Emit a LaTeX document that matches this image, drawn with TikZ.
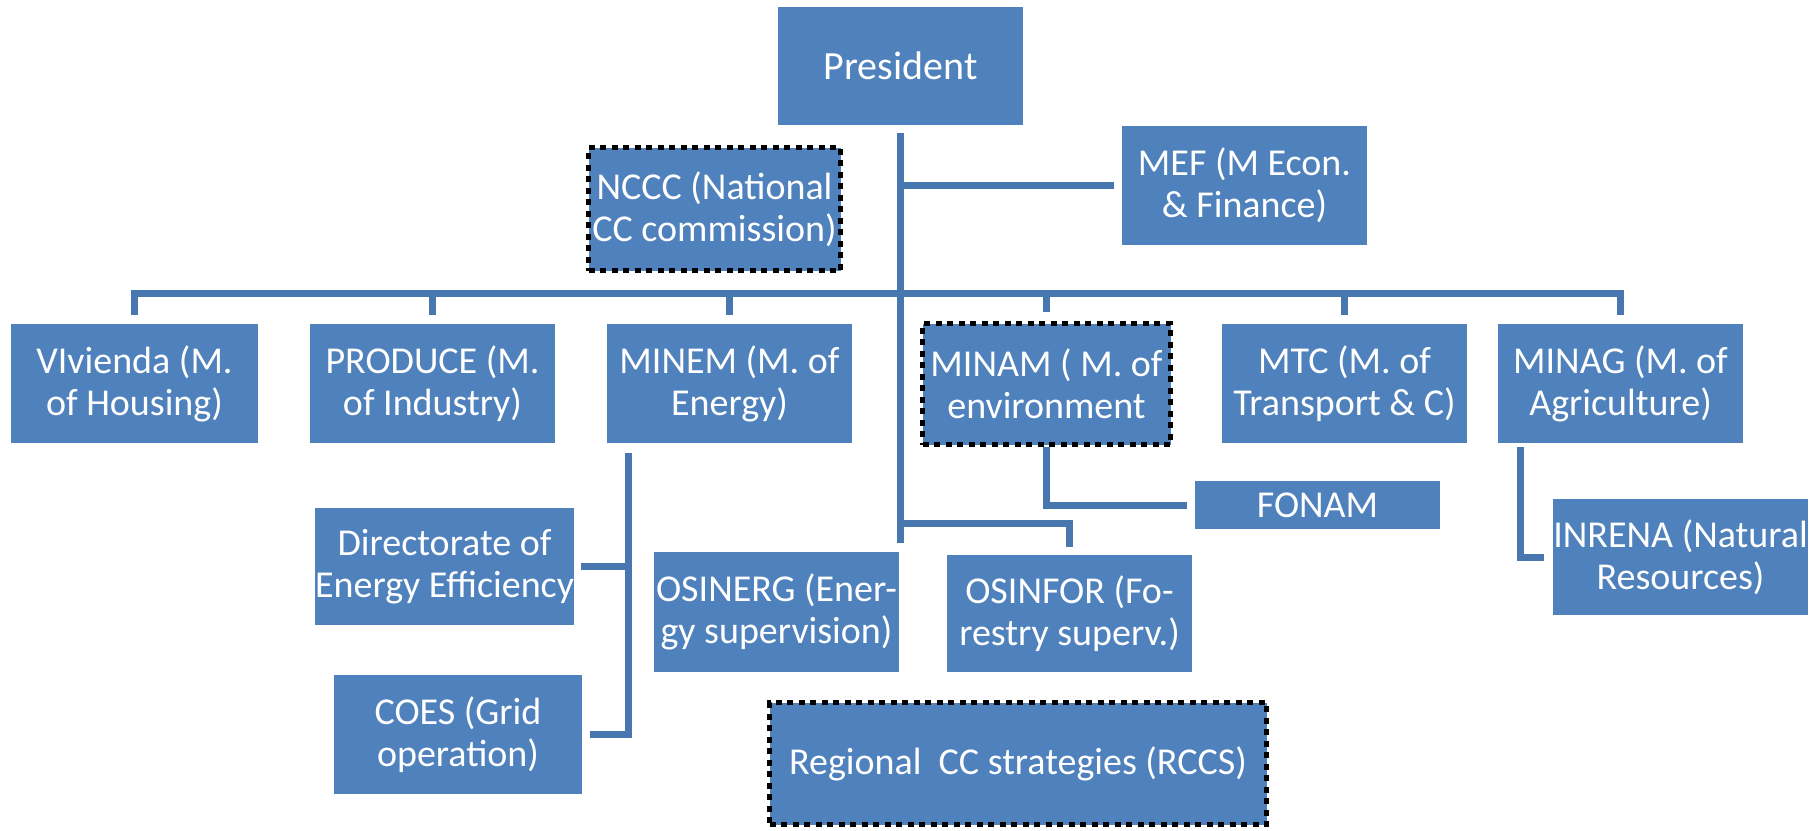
\documentclass[tikz,border=0pt]{standalone}
\usepackage{fontspec}
\setmainfont{Carlito}
\usepackage{xcolor}
\usepackage{tikz}
\usetikzlibrary{calc, positioning}
\definecolor{boxblue}{RGB}{79,129,189}
\definecolor{linkblue}{RGB}{72,118,174}

\begin{document}
\begin{tikzpicture}[x=1pt, y=-1pt,
    box/.style={fill=boxblue, text=white, align=center, inner sep=0pt,
        minimum width=245pt, minimum height=119pt,
        font=\fontsize{38}{42}\selectfont},
    dotbox/.style={box, draw=black, line width=5.5pt, dash pattern=on 6pt off 5.5pt},
    link/.style={draw=linkblue, line width=7pt}]
    \useasboundingbox (0,0) rectangle (1819,830);
    % Cấp trên
    \node[box, minimum height=118pt, font=\fontsize{40}{44}\selectfont] (pres) at (900.5,66) {President};
    \node[dotbox, minimum width=252pt, minimum height=123pt] (nccc) at (714.5,209) {NCCC (National\\CC commission)};
    \node[box] (mef) at (1244.5,185.5) {MEF (M Econ.\\\& Finance)};
    % Các bộ
    \node[box, minimum width=247pt] (viv) at (134.5,383.5) {VIvienda (M.\\of Housing)};
    \node[box] (prod) at (432.5,383.5) {PRODUCE (M.\\of Industry)};
    \node[box] (minem) at (729.5,383.5) {MINEM (M. of\\Energy)};
    \node[dotbox, minimum width=248pt, minimum height=121pt] (minam) at (1046.5,384) {MINAM ( M. of\\environment};
    \node[box] (mtc) at (1344.5,383.5) {MTC (M. of\\Transport \& C)};
    \node[box] (minag) at (1620.5,383.5) {MINAG (M. of\\Agriculture)};
    % Cấp dưới
    \node[box, minimum height=48pt] (fonam) at (1317.5,505) {FONAM};
    \node[box, minimum height=116pt] (inrena) at (1680.5,557) {INRENA (Natural\\Resources)};
    \node[box, minimum height=117pt] (dee) at (444.5,566.5) {Directorate of\\Energy Efficiency};
    \node[box, minimum width=248pt] (coes) at (458,734.5) {COES (Grid\\operation)};
    \node[box, minimum height=120pt] (osinerg) at (776.5,612) {OSINERG (Ener-\\gy supervision)};
    \node[box, minimum height=117pt] (osinfor) at (1069.5,613.5) {OSINFOR (Fo-\\restry superv.)};
    \node[dotbox, minimum width=497pt, minimum height=122pt] (rccs) at (1018,763.5) {Regional~~CC strategies (RCCS)};

    % Đường nối
    \coordinate (bus) at (900.5,293);
    \coordinate (trunkend) at (900.5,543);
    \coordinate (forkinfor) at (900.5,523);
    \coordinate (minemsub) at (628,453);
    \coordinate (minagsub) at (1520,447);
    \draw[link, shorten <=8pt] (pres.south) -- (trunkend);
    \draw[link, shorten >=8pt] (pres.south |- mef.west) -- (mef.west);
    \draw[link, shorten <=9pt, shorten >=9pt] (viv.north) |- (bus) -| (minag.north);
    \foreach \n in {prod, minem, minam, mtc}
        \draw[link, shorten >=9pt] (\n.north |- bus) -- (\n.north);
    \draw[link, shorten >=8pt] (minemsub) |- (coes.east);
    \draw[link, shorten <=7pt] (dee.east) -- (dee.east -| minemsub);
    \draw[link, shorten >=8pt] (minam.south) |- (fonam.west);
    \draw[link, shorten >=9pt] (minagsub) |- (inrena.west);
    \draw[link, shorten >=8pt] (forkinfor) -| (osinfor.north);
\end{tikzpicture}
\end{document}
